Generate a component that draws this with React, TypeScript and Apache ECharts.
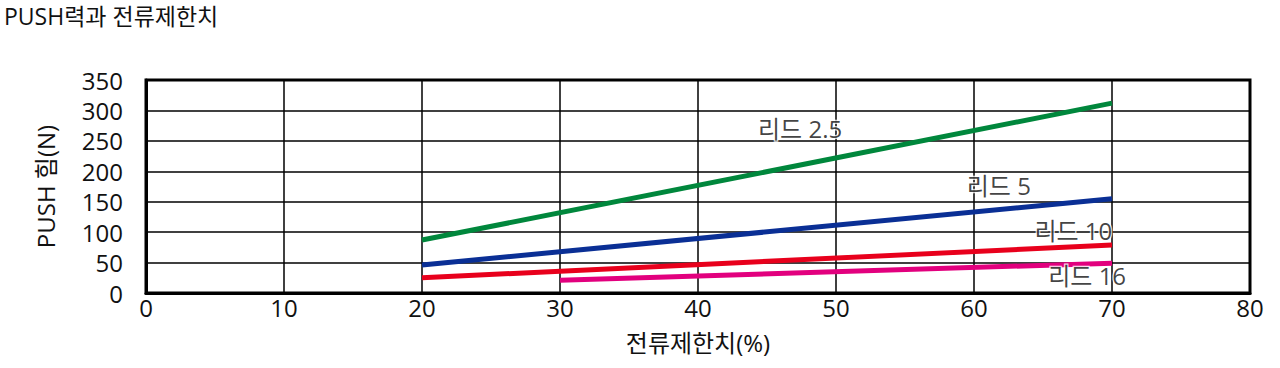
import React, { useEffect, useRef } from "react";
import * as echarts from "echarts";

const title = "PUSH력과 전류제한치";
const xName = "전류제한치(%)";
const yName = "PUSH 힘(N)";

const seriesNames = ["리드 2.5", "리드 5", "리드 10", "리드 16"];
const seriesColors = ["#00873c", "#0a2f95", "#e8001c", "#e2007e"];
const lead25 = [[20, 87], [70, 312]];
const lead5 = [[20, 46], [70, 155]];
const lead10 = [[20, 25], [70, 79]];
const lead16 = [[30, 21], [70, 49]];
const labelPositions = [[47.4, 271], [61.8, 176], [67.2, 102], [68.2, 28]];

const FONT = "'Open Sans', 'Noto Sans CJK KR', sans-serif";

export default function App() {
  const ref = useRef<HTMLDivElement>(null);
  useEffect(() => {
    if (!ref.current) return;
    const chart = echarts.init(ref.current, undefined, { renderer: "svg" });
    const lines = [lead25, lead5, lead10, lead16];
    chart.setOption({
      animation: false,
      textStyle: { fontFamily: FONT },
      title: {
        text: title,
        left: 4,
        top: 3,
        padding: 0,
        textStyle: { fontFamily: FONT, fontSize: 23, lineHeight: 26, fontWeight: "normal", color: "#111" },
      },
      grid: {
        left: 146,
        right: 30,
        top: 80,
        bottom: 75,
        show: true,
        borderColor: "#000",
        borderWidth: 3,
      },
      xAxis: {
        type: "value",
        min: 0,
        max: 80,
        interval: 10,
        name: xName,
        nameLocation: "middle",
        nameGap: 37,
        nameTextStyle: { fontFamily: FONT, fontSize: 24, color: "#111" },
        axisLine: { show: true, lineStyle: { color: "#000", width: 3 } },
        axisTick: { show: false },
        axisLabel: { fontFamily: FONT, fontSize: 24, color: "#111", margin: 2 },
        splitLine: { show: true, lineStyle: { color: "#000", width: 1.5 } },
      },
      yAxis: {
        type: "value",
        min: 0,
        max: 350,
        interval: 50,
        name: yName,
        nameLocation: "middle",
        nameGap: 89,
        nameTextStyle: { fontFamily: FONT, fontSize: 24, color: "#111" },
        axisLine: { show: true, lineStyle: { color: "#000", width: 3 } },
        axisTick: { show: false },
        axisLabel: { fontFamily: FONT, fontSize: 24, lineHeight: 26, color: "#111", margin: 23 },
        splitLine: { show: true, lineStyle: { color: "#000", width: 1.5 } },
      },
      series: [
        ...lines.map((d, i) => ({
          type: "line",
          name: seriesNames[i],
          data: d,
          symbol: "none",
          lineStyle: { color: seriesColors[i], width: 5 },
          z: 3,
        })),
        {
          type: "scatter",
          symbolSize: 0,
          data: labelPositions.map((p, i) => ({ value: p, name: seriesNames[i] })),
          label: {
            show: true,
            position: "inside",
            formatter: (p: any) => p.name,
            fontFamily: FONT,
            fontSize: 24,
            color: "#111",
            textBorderColor: "#fff",
            textBorderWidth: 2.5,
          },
          z: 5,
        },
      ],
    });
    return () => chart.dispose();
  }, []);
  return (
    <div
      ref={ref}
      style={{ position: "absolute", left: 0, top: 0, width: 1280, height: 368 }}
    />
  );
}
